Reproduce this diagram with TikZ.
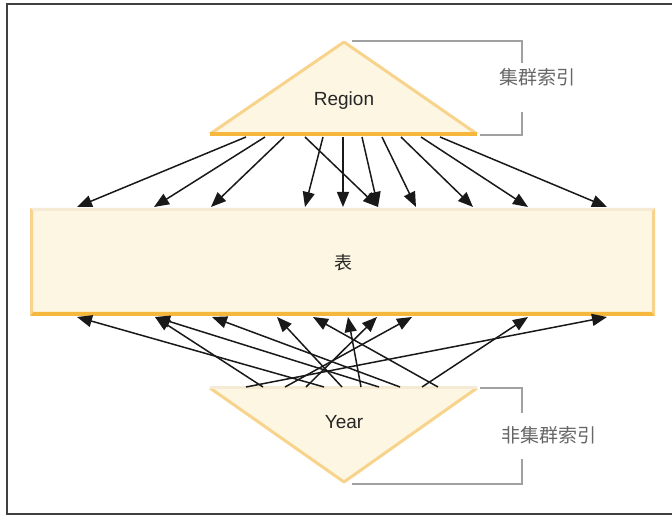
\documentclass[tikz,border=0pt]{standalone}
\usepackage{fontspec}
\setmainfont{Liberation Sans}
\newfontfamily\cjk{Noto Sans CJK SC}
\usetikzlibrary{arrows.meta}
\definecolor{cream}{HTML}{FDF6E2}
\definecolor{sideor}{HTML}{F8D38C}
\definecolor{baseor}{HTML}{F5B73C}
\definecolor{lightor}{HTML}{F5EAD4}
\definecolor{brkgray}{HTML}{A0A0A0}

\begin{document}
\begin{tikzpicture}[x=1pt,y=-1pt,
  arr/.style={-{Triangle[length=15pt,width=12pt]}, line width=1.5pt, black!90},
  brk/.style={brkgray, line width=1.6pt},
  lbl/.style={font=\fontsize{19}{21}\selectfont, text=black!85},
  cjklbl/.style={font=\cjk\fontsize{19}{21}\selectfont, text=black!60}]
\useasboundingbox (0,0) rectangle (672,518);

% ---- outer frame (right side runs off the page)
\draw[line width=1.6pt, black!75] (690,4) -- (7,4) -- (7,514) -- (690,514);

% ---- table with bevelled edges
\fill[cream] (30,208) rectangle (655,316);
\fill[lightor] (30,208) -- (655,208) -- (652,211) -- (33,211) -- cycle;
\fill[baseor] (30,316) -- (655,316) -- (652,312) -- (33,312) -- cycle;
\fill[sideor] (30,208) -- (33,211) -- (33,312) -- (30,316) -- cycle
              (655,208) -- (652,211) -- (652,312) -- (655,316) -- cycle;
\node[lbl, font=\cjk\fontsize{18}{20}\selectfont] (tbl) at (343,263) {表};

% ---- clustered index triangle
\fill[cream] (210,134) -- (344,42) -- (477,134) -- cycle;
\draw[sideor, line width=3pt, line join=round] (210,134) -- (344,42) -- (477,134);
\draw[baseor, line width=3.5pt] (210,134) -- (477,134);
\node[lbl] (region) at (344,101) {Region};

% ---- non-clustered index triangle
\fill[cream] (210,388) -- (477,388) -- (344,482) -- cycle;
\draw[sideor, line width=3pt, line join=round] (210,388) -- (344,482) -- (477,388);
\draw[lightor, line width=3pt] (210,388) -- (477,388);
\node[lbl] (year) at (344,422) {Year};

% ---- brackets with labels
\draw[brk] (352,41) -- (522,41) -- (522,63);
\draw[brk] (522,112) -- (522,135) -- (480,135);
\node[cjklbl] (clu) at (537,77) {集群索引};
\draw[brk] (480,388) -- (522,388) -- (522,413);
\draw[brk] (522,459) -- (522,484) -- (352,484);
\node[cjklbl] (nclu) at (549,435) {非集群索引};

% ---- arrow ends on the triangles and the table
\foreach \x [count=\i] in {246,265,284,305,323,343,362,382,401,421,440}
  \coordinate (rb\i) at (\x,137);
\foreach \x [count=\i] in {77,154,211,305,343,378,416,473,528,607}
  \coordinate (tt\i) at (\x,207);
\foreach \x [count=\i] in {246,263,285,306,324,342,361,379,400,422,438}
  \coordinate (yb\i) at (\x,387);
\foreach \x [count=\i] in {77,155,212,277,313,348,377,412,528,607}
  \coordinate (tb\i) at (\x,317);

% ---- Region -> table
\foreach \a/\b in {1/1,2/2,3/3,4/6,5/4,6/5,7/6,8/7,9/8,10/9,11/10}
  \draw[arr] (rb\a) -- (tt\b);

% ---- Year -> table
\foreach \a/\b in {1/10,2/2,3/8,4/7,5/1,6/4,7/6,8/2,9/3,10/9,11/5}
  \draw[arr] (yb\a) -- (tb\b);

\end{tikzpicture}
\end{document}
